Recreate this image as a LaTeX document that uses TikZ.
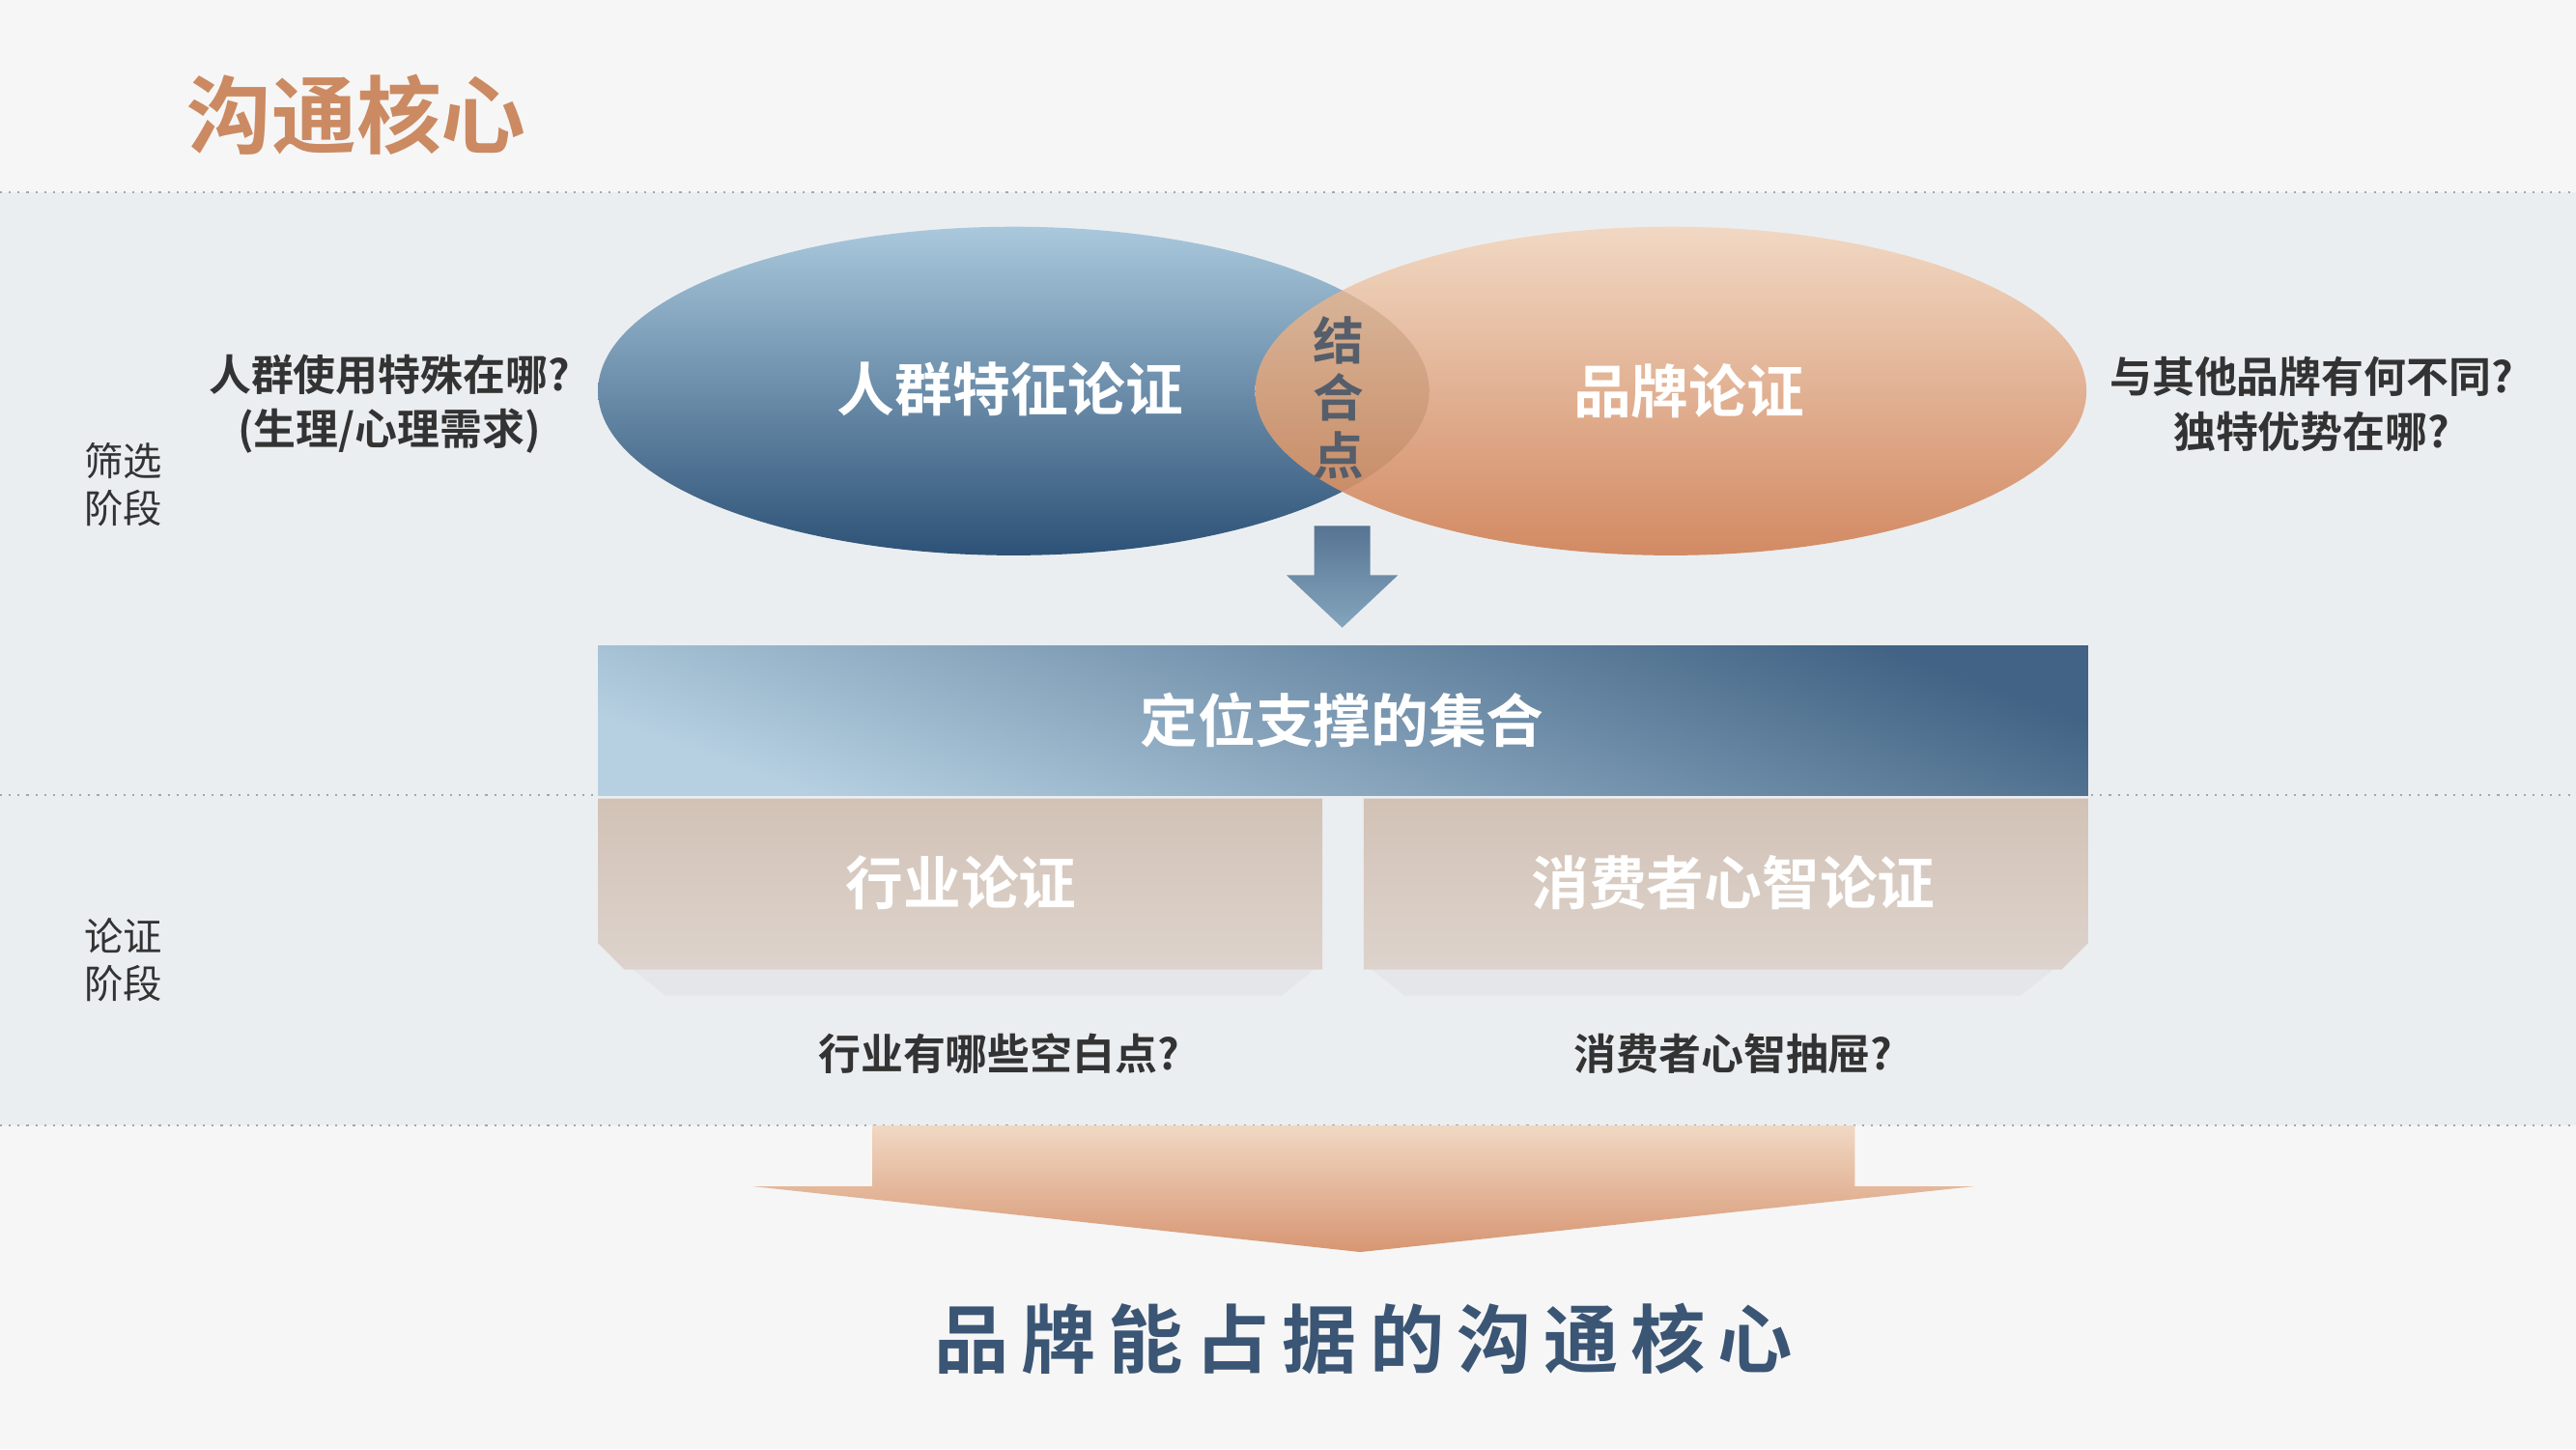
\documentclass[tikz,border=0pt]{standalone}
\usepackage{fontspec}
\setmainfont{Noto Sans CJK SC}
\newfontfamily\cjkb{Noto Sans CJK SC Bold}
\newfontfamily\cjkr{Noto Sans CJK SC}
\usetikzlibrary{shadings}
\definecolor{bgc}{HTML}{F6F6F6}
\definecolor{band}{HTML}{EBEEF1}
\definecolor{titlec}{HTML}{CB8A62}
\definecolor{blueL}{HTML}{A9C8DC}
\definecolor{blueD}{HTML}{2D5277}
\definecolor{orL}{HTML}{F1D8C3}
\definecolor{orD}{HTML}{D28A63}
\definecolor{beigeT}{HTML}{D2C2B6}
\definecolor{beigeB}{HTML}{DDD3CC}
\definecolor{txt}{HTML}{333333}
\definecolor{navy}{HTML}{3B5574}
\tikzset{
 lbl/.style={font=\cjkb\fontsize{17pt}{20pt}\selectfont, text=white},
 qtxt/.style={font=\cjkb\fontsize{12.5pt}{16pt}\selectfont, text=txt, align=center},
 stage/.style={font=\cjkr\fontsize{11.5pt}{14pt}\selectfont, text=txt, align=left},
 dline/.style={draw=gray!70, dotted, line width=0.6pt},
 shad/.style={fill=gray!50, opacity=0.15}
}
\begin{document}
\begin{tikzpicture}[x=0.01701cm,y=-0.01701cm]
\fill[bgc] (0,0) rectangle (1568,882);
\useasboundingbox (0,0) rectangle (1568,882);
\fill[band] (0,117) rectangle (1568,685);
\draw[dline] (0,117) -- (1568,117);
\draw[dline] (0,484) -- (1568,484);
\draw[dline] (0,685) -- (1568,685);
\node[font=\cjkb\fontsize{25pt}{28pt}\selectfont, text=titlec] (title) at (217,70) {沟通核心};
% ellipses
\shade[top color=blueL, bottom color=blueD] (617,238) ellipse [x radius=253, y radius=100];
\shade[top color=orL, bottom color=orD] (1017,238) ellipse [x radius=253, y radius=100];
\begin{scope}
\clip (617,238) ellipse [x radius=253, y radius=100];
\fill[fill=brown!70!black, opacity=0.18] (1017,238) ellipse [x radius=253, y radius=100];
\end{scope}
\node[lbl] (crowd) at (615,237) {人群特征论证};
\node[lbl] (brand) at (1028,238) {品牌论证};
\node[font=\cjkb\fontsize{15pt}{18pt}\selectfont, text=navy!80!brown, align=center] (join) at (815,242) {结\\[-1pt]合\\[-1pt]点};
\node[qtxt] (lq) at (237,246) {人群使用特殊在哪?\\(生理/心理需求)};
\node[qtxt] (rq) at (1407,246) {与其他品牌有何不同?\\独特优势在哪?};
\node[stage] (s1) at (75,295) {筛选\\阶段};
\node[stage] (s2) at (75,584) {论证\\阶段};
% down arrow
\shade[top color=blueD!80, bottom color=blueL!70!blueD] (800,320) -- (834,320) -- (834,350) -- (851,350) -- (817,382) -- (783,350) -- (800,350) -- cycle;
% set rectangle
\shade[top color=blueD!90, bottom color=blueL!85, shading angle=-20] (364,393) rectangle (1271,484);
\node[lbl] (set) at (817,438) {定位支撑的集合};
% boxes
\fill[shad] (385,590) -- (800,590) -- (780,606) -- (405,606) -- cycle;
\fill[shad] (835,590) -- (1250,590) -- (1230,606) -- (855,606) -- cycle;
\shade[top color=beigeT, bottom color=beigeB] (364,486) -- (805,486) -- (805,590) -- (380,590) -- (364,574) -- cycle;
\shade[top color=beigeT, bottom color=beigeB] (830,486) -- (1271,486) -- (1271,574) -- (1255,590) -- (830,590) -- cycle;
\node[lbl] (ind) at (585,537) {行业论证};
\node[lbl] (cons) at (1055,537) {消费者心智论证};
\node[qtxt] (iq) at (608,641) {行业有哪些空白点?};
\node[qtxt] (cq) at (1055,641) {消费者心智抽屉?};
% big arrow
\shade[top color=orL, bottom color=orD!90] (531,685) -- (1129,685) -- (1129,722) -- (1202,722) -- (828,762) -- (458,722) -- (531,722) -- cycle;
\node[font=\cjkb\fontsize{22pt}{26pt}\selectfont, text=navy] (core) at (830,815) {品\,牌\,能\,占\,据\,的\,沟\,通\,核\,心};
\end{tikzpicture}
\end{document}
